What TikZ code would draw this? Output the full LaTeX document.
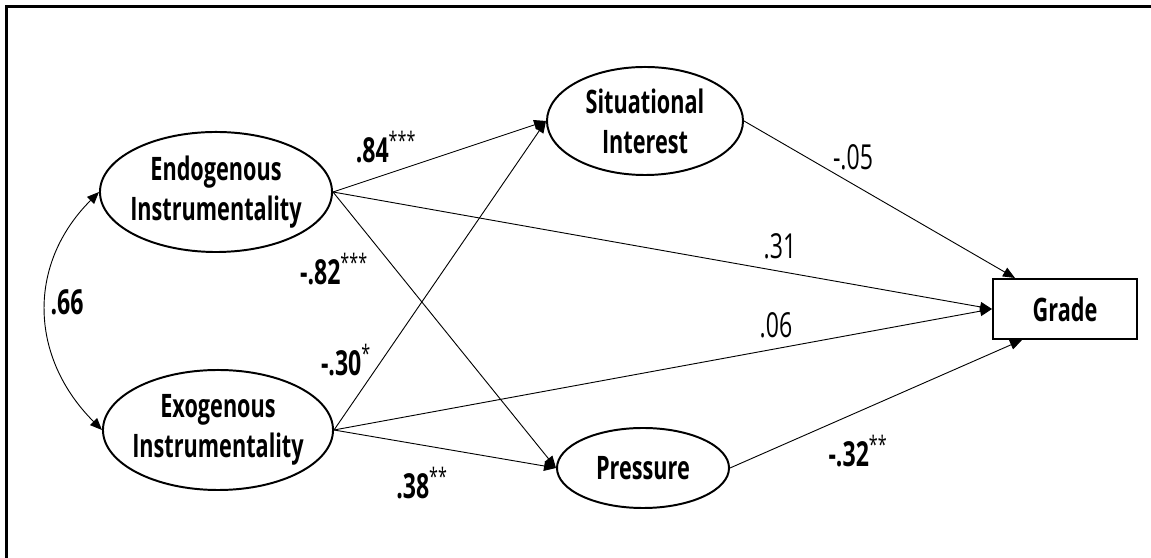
\documentclass[tikz,border=0pt]{standalone}
\usepackage{fontspec}
\setmainfont{Open Sans}[FakeStretch=0.67]
\usetikzlibrary{arrows.meta,shapes.geometric}

\begin{document}
\begin{tikzpicture}[x=0.025cm, y=0.025cm,
    latent/.style={draw, ellipse, line width=1.4pt, inner xsep=-0.4cm, inner ysep=0pt,
        align=center, font=\bfseries\fontsize{23}{28.5}\selectfont},
    observed/.style={draw, rectangle, line width=1.4pt, inner sep=0pt,
        font=\bfseries\fontsize{23}{28.5}\selectfont},
    path/.style={-{Triangle[length=8.5pt,width=7pt]}, line width=0.65pt},
    coef/.style={font=\bfseries\fontsize{24.5}{24.5}\selectfont},
    weak/.style={font=\fontsize{24.5}{24.5}\selectfont}]
    \useasboundingbox (0,0) rectangle (1151,558);

    % Frame
    \draw[line width=1.8pt] (6.5,0) -- (6.5,551.5) -- (1151,551.5);

    % Variables
    \node[latent, minimum width=5.8cm, minimum height=3cm] (endo) at (216,366)
        {Endogenous\\Instrumentality};
    \node[latent, minimum width=5.75cm, minimum height=3cm] (exo) at (218,128)
        {Exogenous\\Instrumentality};
    \node[latent, minimum width=4.9cm, minimum height=2.7cm] (sit) at (645,437)
        {Situational\\Interest};
    \node[latent, minimum width=4.3cm, minimum height=2cm] (press) at (643,90)
        {Pressure};
    \node[observed, minimum width=3.6cm, minimum height=1.5cm] (grade) at (1065,249)
        {Grade};

    % Correlation
    \draw[path, {Triangle[length=8.5pt,width=7pt]}-{Triangle[length=8.5pt,width=7pt]}]
        (endo.west) to[out=225, in=135, looseness=1.1] (exo.west);
    \node[coef] (r) at (67,256) {.66};

    % Paths to mediators
    \draw[path] (endo.east) -- (sit.west);
    \draw[path] (endo.east) -- (press.west);
    \draw[path] (exo.east) -- (sit.west);
    \draw[path] (exo.east) -- (press.west);
    \node[coef] (b1) at (386,411) {.84\textsuperscript{\mdseries ***}};
    \node[coef] (b2) at (334,289) {-.82\textsuperscript{\mdseries ***}};
    \node[coef] (b3) at (346,198) {-.30\textsuperscript{\mdseries *}};
    \node[coef] (b4) at (422,75) {.38\textsuperscript{\mdseries **}};

    % Paths to grade
    \draw[path] (endo.east) -- (grade.west);
    \draw[path] (exo.east) -- (grade.west);
    \draw[path] (sit.east) -- ([xshift=-1.25cm]grade.north);
    \draw[path] (press.east) -- ([xshift=-1.075cm]grade.south);
    \node[weak] (c1) at (780,312) {.31};
    \node[weak] (c2) at (776,233) {.06};
    \node[weak] (c3) at (853,401) {-.05};
    \node[coef] (c4) at (858,107) {-.32\textsuperscript{\mdseries **}};
\end{tikzpicture}
\end{document}
